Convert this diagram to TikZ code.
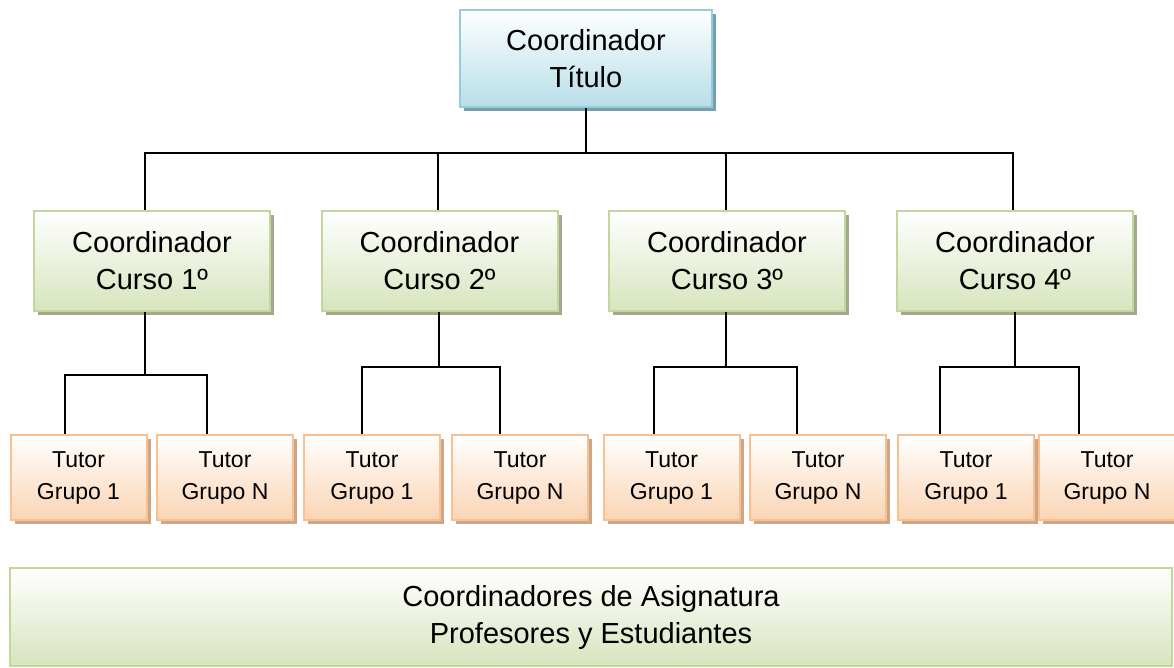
\documentclass[tikz,border=0pt]{standalone}
\usepackage{fontspec}
\setmainfont{Liberation Sans}
\usetikzlibrary{shadows,calc}
\definecolor{bluebd}{RGB}{146,205,220}
\definecolor{bluefl}{RGB}{183,222,232}
\definecolor{bluesh}{RGB}{120,160,172}
\definecolor{greenbd}{RGB}{195,214,155}
\definecolor{greenfl}{RGB}{215,228,189}
\definecolor{greensh}{RGB}{160,170,140}
\definecolor{orangebd}{RGB}{250,192,143}
\definecolor{orangefl}{RGB}{251,212,180}
\definecolor{orangesh}{RGB}{205,165,135}
\tikzset{
  bigtext/.style={font=\fontsize{29}{37}\selectfont, align=center},
  smalltext/.style={font=\fontsize{23}{32}\selectfont, align=center},
  titlebox/.style={draw=bluebd, line width=2pt, top color=white, bottom color=bluefl,
    minimum width=252pt, minimum height=97pt, inner sep=0pt, bigtext,
    drop shadow={shadow xshift=4pt, shadow yshift=-4pt, fill=bluesh, opacity=1}},
  coursebox/.style={draw=greenbd, line width=2pt, top color=white, bottom color=greenfl,
    minimum width=236pt, minimum height=100pt, inner sep=0pt, bigtext,
    drop shadow={shadow xshift=4pt, shadow yshift=-4pt, fill=greensh, opacity=1}},
  tutorbox/.style={draw=orangebd, line width=2pt, top color=white, bottom color=orangefl,
    minimum width=136pt, minimum height=85pt, inner sep=0pt, smalltext,
    drop shadow={shadow xshift=4pt, shadow yshift=-4pt, fill=orangesh, opacity=1}},
  basebox/.style={draw=greenbd, line width=2pt, top color=white, bottom color=greenfl,
    minimum width=1162pt, minimum height=98pt, inner sep=0pt, bigtext},
  conn/.style={draw=black, line width=1.5pt}
}
\begin{document}
\begin{tikzpicture}[x=1pt,y=-1pt]
\useasboundingbox (0,0) rectangle (1174,667);
\node[titlebox] (top) at (586,58.5) {Coordinador\\Título};
\node[coursebox] (c1) at (152,261) {Coordinador\\Curso 1º};
\node[coursebox] (c2) at (439.5,261) {Coordinador\\Curso 2º};
\node[coursebox] (c3) at (727,261) {Coordinador\\Curso 3º};
\node[coursebox] (c4) at (1015,261) {Coordinador\\Curso 4º};
\node[tutorbox] (t11) at (78.5,477.5) {Tutor\\Grupo 1};
\node[tutorbox] (t1n) at (225,477.5) {Tutor\\Grupo N};
\node[tutorbox] (t21) at (372,477.5) {Tutor\\Grupo 1};
\node[tutorbox] (t2n) at (520,477.5) {Tutor\\Grupo N};
\node[tutorbox] (t31) at (671.5,477.5) {Tutor\\Grupo 1};
\node[tutorbox] (t3n) at (818,477.5) {Tutor\\Grupo N};
\node[tutorbox] (t41) at (966,477.5) {Tutor\\Grupo 1};
\node[tutorbox] (t4n) at (1107,477.5) {Tutor\\Grupo N};
\node[basebox] (base) at (591,617) {Coordinadores de Asignatura\\Profesores y Estudiantes};
% top level connectors
\coordinate (b0) at (586,153);
\coordinate (b1) at (145,153);
\coordinate (b2) at (438,153);
\coordinate (b3) at (726,153);
\coordinate (b4) at (1013,153);
\draw[conn] (top.south -| b0) -- (b0);
\draw[conn] (c1.north -| b1) -- (b1) -- (b4) -- (c4.north -| b4);
\draw[conn] (c2.north -| b2) -- (b2);
\draw[conn] (c3.north -| b3) -- (b3);
% course 1
\coordinate (j1) at (145,375); \coordinate (l1) at (65,375); \coordinate (r1) at (207,375);
\draw[conn] (c1.south -| j1) -- (j1);
\draw[conn] (t11.north -| l1) -- (l1) -- (r1) -- (t1n.north -| r1);
% course 2
\coordinate (j2) at (439,367); \coordinate (l2) at (362,367); \coordinate (r2) at (500,367);
\draw[conn] (c2.south -| j2) -- (j2);
\draw[conn] (t21.north -| l2) -- (l2) -- (r2) -- (t2n.north -| r2);
% course 3
\coordinate (j3) at (726,367); \coordinate (l3) at (654,367); \coordinate (r3) at (797,367);
\draw[conn] (c3.south -| j3) -- (j3);
\draw[conn] (t31.north -| l3) -- (l3) -- (r3) -- (t3n.north -| r3);
% course 4
\coordinate (j4) at (1015,367); \coordinate (l4) at (940,367); \coordinate (r4) at (1079,367);
\draw[conn] (c4.south -| j4) -- (j4);
\draw[conn] (t41.north -| l4) -- (l4) -- (r4) -- (t4n.north -| r4);
\end{tikzpicture}
\end{document}
